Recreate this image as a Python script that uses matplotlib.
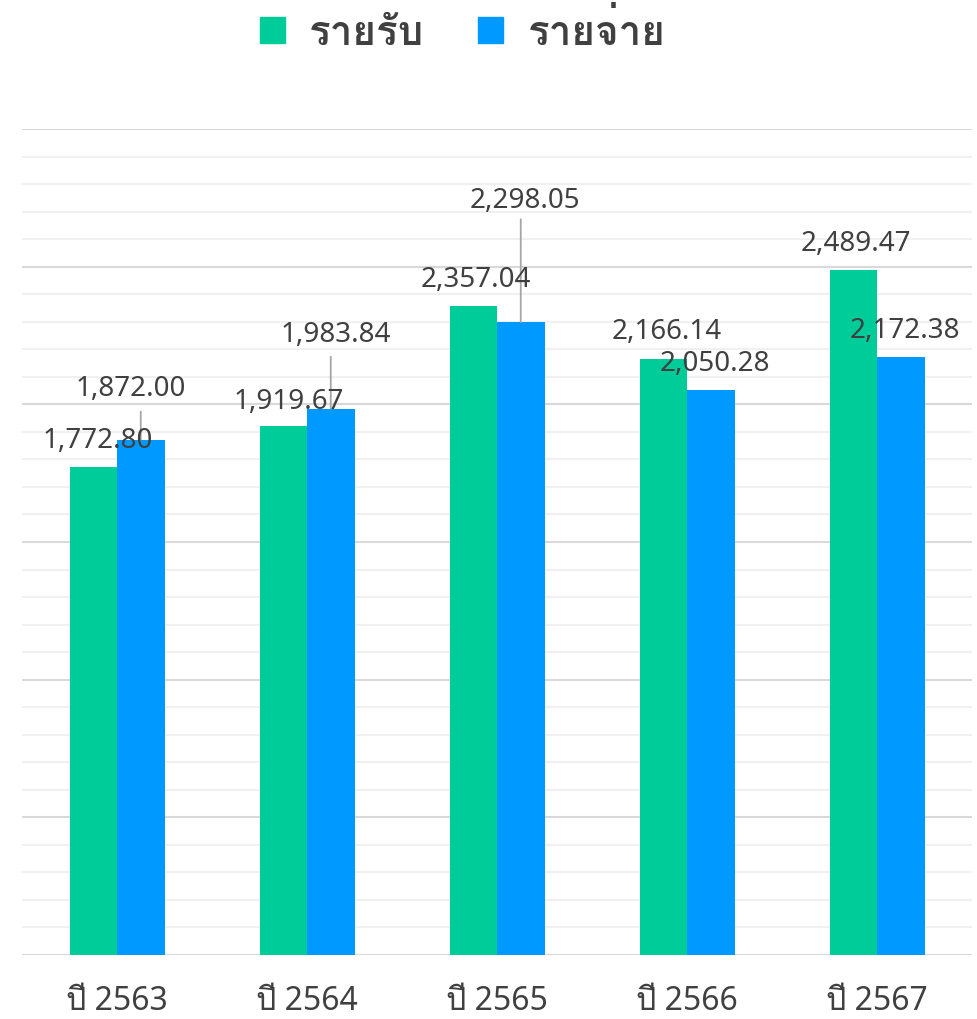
import matplotlib
matplotlib.use('Agg')
import matplotlib.pyplot as plt
import numpy as np
from matplotlib.patches import Patch

# data
years = ['ปี 2563', 'ปี 2564', 'ปี 2565', 'ปี 2566', 'ปี 2567']
income = [1772.80, 1919.67, 2357.04, 2166.14, 2489.47]
expense = [1872.00, 1983.84, 2298.05, 2050.28, 2172.38]
series_names = ['รายรับ', 'รายจ่าย']

green = '#00CC99'
blue = '#0099FF'
txt = '#404040'

# label offsets in pixels (dx, dy) from the top centre of each bar, and leader line length
inc_offsets = [(4, 30), (5, 28), (3, 30), (3, 31), (3, 30)]
exp_offsets = [(-10, 55), (5, 78), (4, 125), (4, 30), (4, 30)]
exp_leader = [28, 52, 103, 0, 0]

num_font = ['Noto Sans', 'DejaVu Sans']
thai_font = ['Loma', 'IBM Plex Sans Thai', 'DejaVu Sans']

fig = plt.figure(figsize=(9.78, 10.2), dpi=100)
ax = fig.add_axes([22 / 978, 64 / 1020, 950 / 978, 826 / 1020])

x = np.arange(len(years))
w = 0.25
ax.bar(x - w / 2, income, w, color=green, linewidth=0, zorder=3)
ax.bar(x + w / 2, expense, w, color=blue, linewidth=0, zorder=3)

ax.set_xlim(-0.5, len(years) - 0.5)
ax.set_ylim(0, 3000)
ax.set_yticks(np.arange(0, 3001, 500))
ax.set_yticks(np.arange(0, 3001, 100), minor=True)
ax.grid(axis='y', which='major', color='#d9d9d9', linewidth=1.5, zorder=0)
ax.grid(axis='y', which='minor', color='#f0f0f0', linewidth=1.5, zorder=0)
ax.tick_params(axis='y', which='both', left=False, labelleft=False)
ax.tick_params(axis='x', length=0, pad=21)
for s in ax.spines.values():
    s.set_visible(False)

ax.set_xticks(x)
ax.set_xticklabels(years, fontsize=23, color=txt, family=['Noto Sans', 'Loma'])

px = 72 / fig.dpi  # pixels -> points

for i in range(len(years)):
    dx, dy = inc_offsets[i]
    ax.annotate(f'{income[i]:,.2f}', xy=(x[i] - w / 2, income[i]),
                xytext=(dx * px, (dy - 10) * px), textcoords='offset points',
                ha='center', va='baseline', fontsize=20, color=txt, family=num_font, zorder=5)
    dx, dy = exp_offsets[i]
    if exp_leader[i]:
        ax.annotate('', xy=(x[i] + w / 2, expense[i]), xytext=(0, exp_leader[i] * px),
                    textcoords='offset points',
                    arrowprops=dict(arrowstyle='-', color='#a6a6a6', lw=1.3, shrinkA=0, shrinkB=0),
                    zorder=4)
    ax.annotate(f'{expense[i]:,.2f}', xy=(x[i] + w / 2, expense[i]),
                xytext=(dx * px, (dy - 10) * px), textcoords='offset points',
                ha='center', va='baseline', fontsize=20, color=txt, family=num_font, zorder=5)

handles = [Patch(color=green), Patch(color=blue)]
fig.legend(handles, series_names, loc='upper center', bbox_to_anchor=(0.473, 1.018),
           ncol=2, frameon=False, handlelength=0.62, handleheight=0.62, handletextpad=0.6,
           columnspacing=1.35, borderpad=0.2,
           prop={'family': thai_font, 'weight': 'bold', 'size': 29},
           labelcolor=txt)

fig.savefig('out.png', dpi=100)
